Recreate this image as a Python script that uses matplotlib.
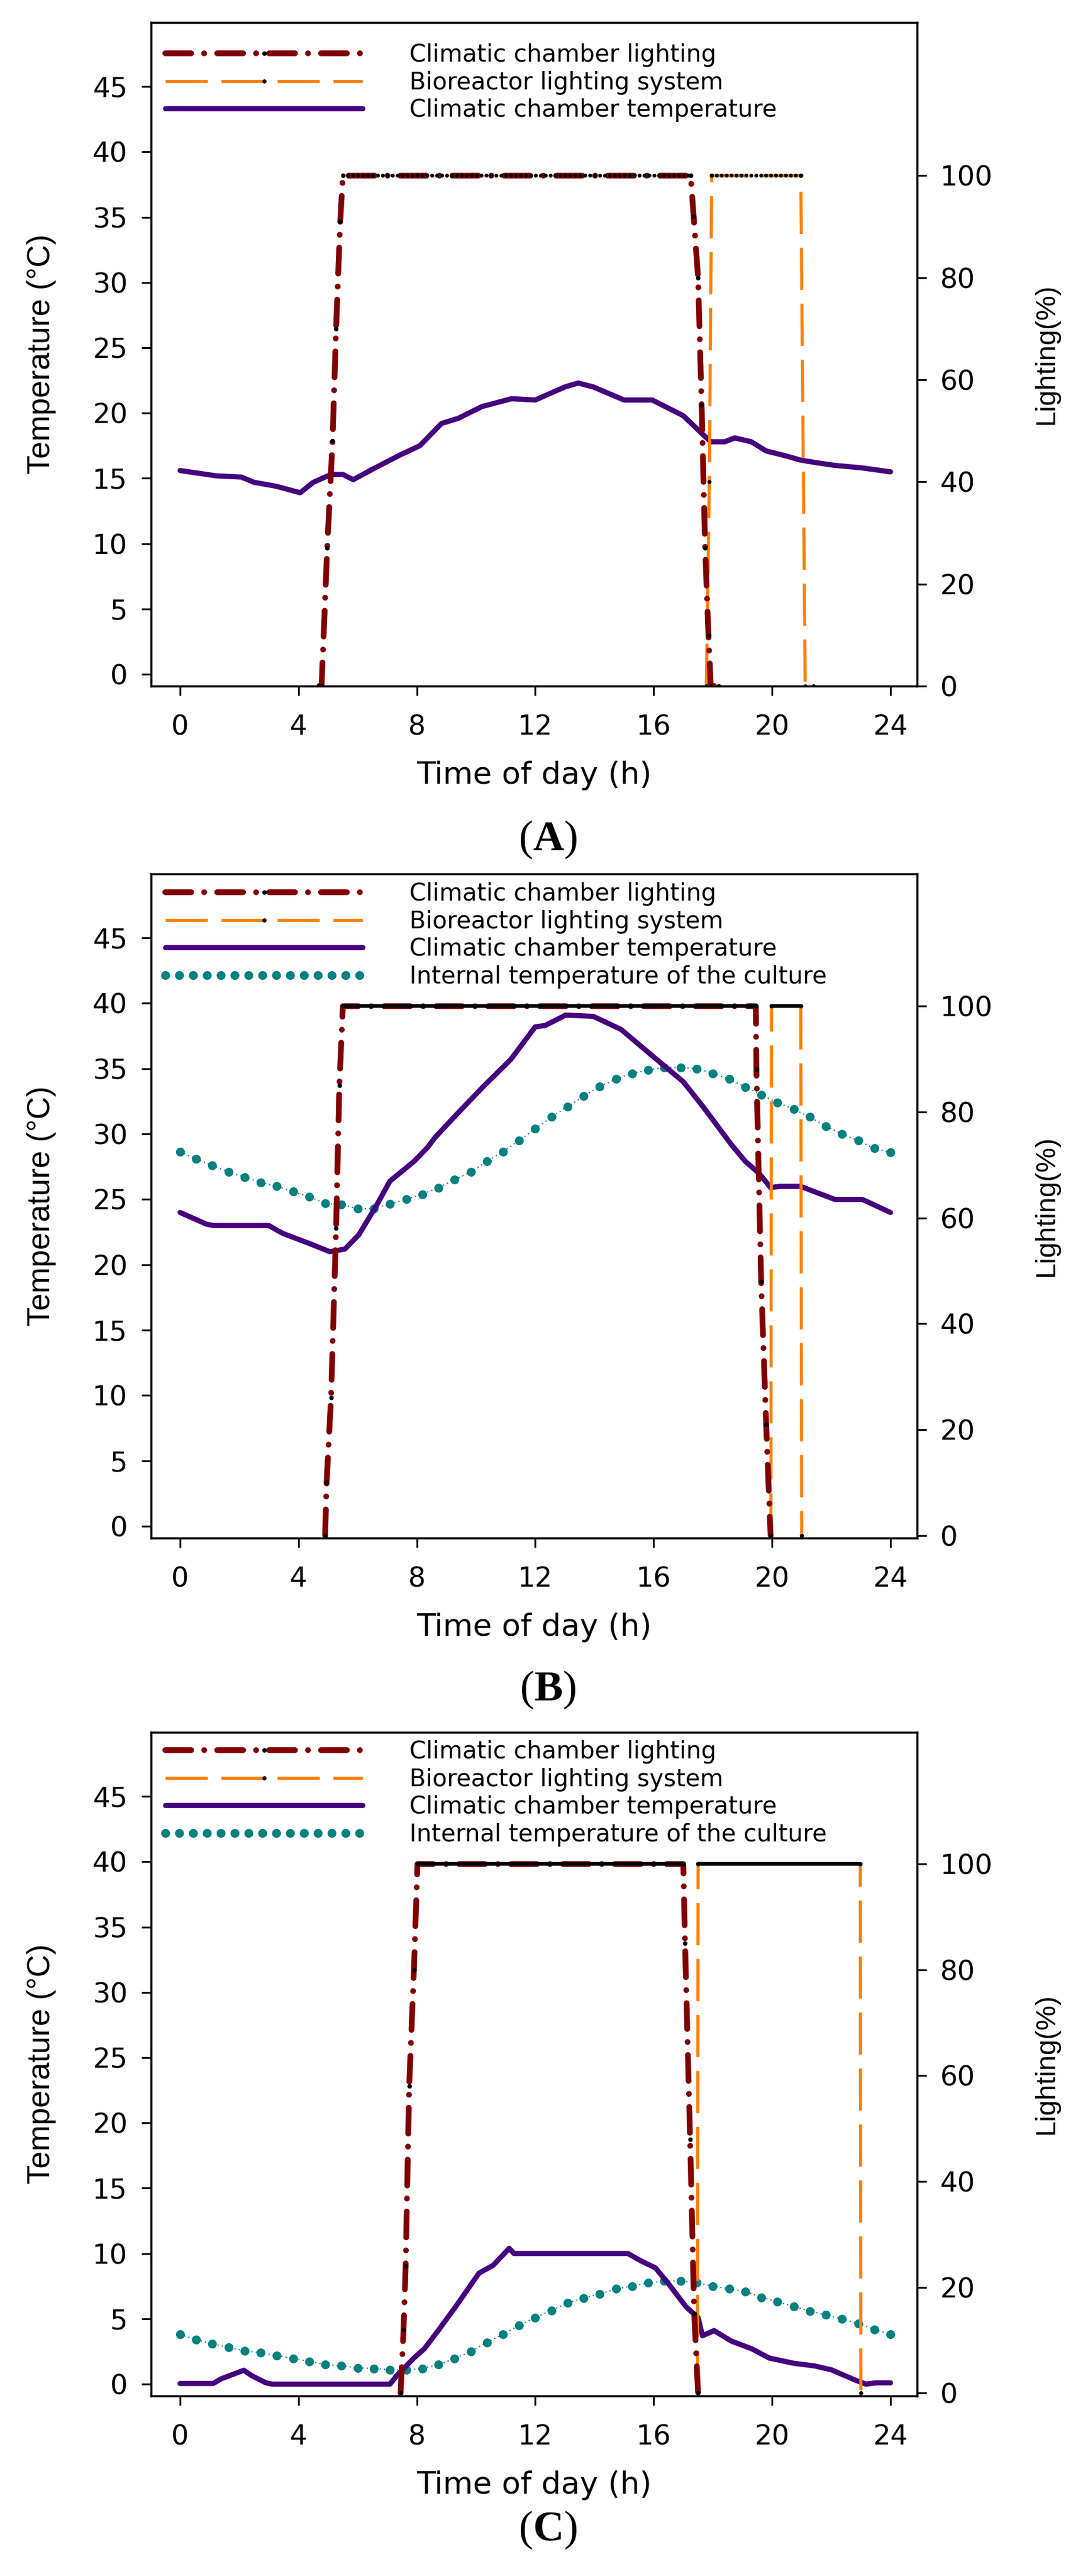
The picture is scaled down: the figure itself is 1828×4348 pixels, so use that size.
import numpy as np
import matplotlib
matplotlib.use("Agg")
import matplotlib.pyplot as plt
from matplotlib.lines import Line2D

plt.rcParams['font.family'] = ['DejaVu Sans']
plt.rcParams['mathtext.fontset'] = 'custom'
plt.rcParams['mathtext.rm'] = 'Liberation Serif'
plt.rcParams['mathtext.bf'] = 'Liberation Serif:bold'

# ---------------- data ----------------
# Panel A
a_temp_t = [0, 0.9, 1.2, 2.07, 2.5, 3.24, 4.06, 4.5, 5.1, 5.5, 5.85, 6.5, 7.44, 8.1, 8.83, 9.4,
            10.2, 11.2, 12.0, 13.0, 13.45, 13.96, 15.0, 15.95, 17.0, 17.6, 17.93, 18.4, 18.74,
            19.3, 19.8, 20.5, 20.96, 21.5, 22.1, 23.05, 24]
a_temp_v = [15.6, 15.3, 15.2, 15.1, 14.7, 14.4, 13.9, 14.7, 15.3, 15.3, 14.9, 15.7, 16.8, 17.5,
            19.2, 19.6, 20.5, 21.1, 21.0, 22.0, 22.3, 22.0, 21.0, 21.0, 19.8, 18.5, 17.8, 17.8,
            18.1, 17.8, 17.1, 16.7, 16.4, 16.2, 16.0, 15.8, 15.5]
a_cl_t = [4.7, 4.78, 4.97, 5.15, 5.27, 5.41, 5.5, 17.25, 17.35, 17.5, 17.62, 17.74, 17.85, 17.93, 18.2]
a_cl_v = [0, 0, 27, 48, 70, 91, 100, 100, 92, 80, 55, 27, 10, 0, 0]
a_bl_t = [17.78, 17.88, 17.96, 20.97, 21.12, 21.4]
a_bl_v = [0, 40, 100, 100, 0, 0]

# Panel B
b_temp_t = [0, 0.9, 1.14, 3.0, 3.47, 4.4, 5.06, 5.57, 6.04, 6.6, 7.09, 7.9, 8.37, 8.6, 9.3, 10.23,
            11.17, 12.0, 12.33, 13.03, 13.96, 14.9, 15.84, 17.0, 17.7, 18.62, 19.1, 19.56, 19.95,
            20.26, 20.96, 21.42, 22.12, 23.05, 24]
b_temp_v = [24.0, 23.1, 23.0, 23.0, 22.4, 21.6, 21.0, 21.2, 22.3, 24.4, 26.4, 27.9, 29.0, 29.7,
            31.4, 33.6, 35.7, 38.2, 38.3, 39.1, 39.0, 38.0, 36.2, 34.0, 32.0, 29.2, 27.9, 27.0,
            25.9, 26.0, 26.0, 25.6, 25.0, 25.0, 24.0]
b_cl_t = [4.9, 4.95, 5.1, 5.27, 5.38, 5.5, 19.45, 19.47, 19.63, 19.8, 19.95]
b_cl_v = [0, 10, 26, 58, 85, 100, 100, 88, 48, 21, 0]
b_bl_t = [19.96, 19.98, 20.97, 21.0]
b_bl_v = [0, 100, 100, 0]

# internal culture temperature sampling times (h)
int_t = [0.0, 0.55, 1.09, 1.64, 2.18, 2.73, 3.27, 3.82, 4.36, 4.91, 5.45, 6.0, 6.55, 7.09, 7.64,
         8.18, 8.73, 9.27, 9.82, 10.36, 10.91, 11.45, 12.0, 12.55, 13.09, 13.64, 14.18, 14.73,
         15.27, 15.82, 16.36, 16.91, 17.45, 18.0, 18.55, 19.09, 19.64, 20.18, 20.73, 21.27,
         21.82, 22.36, 22.91, 23.45, 24.0]
b_int_v = [28.65, 28.1, 27.6, 27.1, 26.7, 26.3, 26.0, 25.6, 25.2, 24.7, 24.6, 24.3, 24.3, 24.65,
           25.0, 25.4, 25.9, 26.5, 27.1, 27.9, 28.65, 29.5, 30.4, 31.3, 32.1, 32.9, 33.65, 34.2,
           34.65, 34.9, 35.1, 35.1, 35.0, 34.65, 34.2, 33.6, 33.0, 32.4, 31.9, 31.3, 30.6, 30.0,
           29.5, 28.9, 28.6]

# Panel C
c_temp_t = [0, 1.12, 1.38, 2.15, 2.42, 2.9, 3.12, 7.09, 7.32, 7.9, 8.25, 8.72, 9.3, 10.1, 10.58,
            11.12, 11.28, 12.56, 15.13, 15.6, 16.06, 16.53, 17.1, 17.5, 17.65, 18.04, 18.62,
            19.32, 19.9, 20.72, 21.42, 22.0, 22.82, 23.17, 23.52, 24]
c_temp_v = [0.05, 0.05, 0.4, 1.06, 0.65, 0.1, 0.0, 0.0, 0.65, 2.0, 2.7, 4.1, 5.9, 8.5, 9.1, 10.4,
            10.0, 10.0, 10.0, 9.4, 8.9, 7.6, 5.9, 5.1, 3.7, 4.1, 3.3, 2.7, 2.0, 1.6, 1.4, 1.1, 0.3,
            0.0, 0.1, 0.1]
c_cl_t = [7.45, 7.55, 7.62, 7.74, 7.9, 8.02, 17.0, 17.06, 17.23, 17.37, 17.5]
c_cl_v = [0, 12, 24, 58, 80, 100, 100, 85, 48, 15, 0]
c_bl_t = [17.48, 17.5, 22.98, 23.0]
c_bl_v = [0, 100, 100, 0]
c_int_v = [3.8, 3.4, 3.1, 2.8, 2.55, 2.4, 2.2, 1.95, 1.75, 1.5, 1.4, 1.25, 1.2, 1.1, 1.1, 1.2, 1.5,
           1.95, 2.5, 3.2, 3.8, 4.5, 5.1, 5.65, 6.2, 6.6, 6.9, 7.3, 7.5, 7.75, 7.9, 7.9, 7.75, 7.5,
           7.3, 7.1, 6.65, 6.3, 5.95, 5.6, 5.3, 5.0, 4.65, 4.2, 3.8]

x_ticks = [0, 4, 8, 12, 16, 20, 24]
temp_ticks = [0, 5, 10, 15, 20, 25, 30, 35, 40, 45]
light_ticks = [0, 20, 40, 60, 80, 100]

labels = ["Climatic chamber lighting", "Bioreactor lighting system",
          "Climatic chamber temperature", "Internal temperature of the culture"]
panel_letters = ["A", "B", "C"]

# ---------------- style ----------------
RED = '#800000'
ORANGE = '#FF8000'
PURPLE = '#46007E'
TEAL = '#008080'
RED_LW = 7.0
RED_LS = (0, (4.5, 2.25, 0.01, 2.25))
OR_LW = 3.8
OR_LS = (0, (13.5, 4.4))
PUR_LW = 6.3

W, H = 1828, 4348
fig = plt.figure(figsize=(W / 100, H / 100), dpi=100)
PX = 72 / 100  # points per pixel

left_px, right_px = 255, 1548
panels = [
    dict(top=38, bot=1158, temp=(a_temp_t, a_temp_v), cl=(a_cl_t, a_cl_v), bl=(a_bl_t, a_bl_v),
         internal=None, rlim=(0, 130), leg_y=94, plate='dots', lab_base=1435),
    dict(top=1475, bot=2596, temp=(b_temp_t, b_temp_v), cl=(b_cl_t, b_cl_v), bl=(b_bl_t, b_bl_v),
         internal=b_int_v, rlim=(-0.5, 125), leg_y=1510, plate='solid', lab_base=2870),
    dict(top=2924, bot=4044, temp=(c_temp_t, c_temp_v), cl=(c_cl_t, c_cl_v), bl=(c_bl_t, c_bl_v),
         internal=c_int_v, rlim=(-0.55, 124.9), leg_y=2958, plate='solid', lab_base=4288),
]

TICK_FS = 33.5
LEG_FS = 29
TICK_LEN = 16 * PX
for i, p in enumerate(panels):
    rect = [left_px / W, 1 - p['bot'] / H, (right_px - left_px) / W, (p['bot'] - p['top']) / H]
    ax = fig.add_axes(rect)
    ax2 = ax.twinx()
    ax.set_zorder(1)
    ax2.set_zorder(2)
    ax2.patch.set_visible(False)

    # temperature
    ax.plot(p['temp'][0], p['temp'][1], color=PURPLE, lw=PUR_LW, solid_capstyle='round',
            solid_joinstyle='round', zorder=3)
    if p['internal'] is not None:
        ax.plot(int_t, p['internal'], color=TEAL, lw=1.5, ls=(0, (1, 2.5)), marker='o',
                ms=10.8, mec='none', mfc=TEAL, zorder=2)

    # lighting
    ct, cv = np.array(p['cl'][0]), np.array(p['cl'][1])
    bt, bv = np.array(p['bl'][0]), np.array(p['bl'][1])
    ax2.plot(bt, bv, color=ORANGE, lw=OR_LW, ls=OR_LS, dash_capstyle='butt', marker='o', ms=4,
             mfc='k', mec='k', zorder=2)
    ax2.plot(ct, cv, color=RED, lw=RED_LW, ls=RED_LS, dash_capstyle='round', marker='o', ms=4.5,
             mfc='k', mec='k', zorder=3)
    for tt, vv in ((ct, cv), (bt, bv)):
        m = vv == 100
        if p['plate'] == 'dots':
            ax2.plot(tt[m], vv[m], color='k', lw=4.8, ls=(0, (0.01, 1.24)),
                     dash_capstyle='round', zorder=4)
        else:
            ax2.plot(tt[m], vv[m], color='k', lw=4.6, solid_capstyle='round', zorder=4)

    # axes limits / ticks
    ax.set_xlim(-0.98, 24.9)
    ax.set_ylim(-0.9, 49.9)
    ax2.set_ylim(*p['rlim'])
    ax.set_xticks(x_ticks)
    ax.set_yticks(temp_ticks)
    ax2.set_yticks(light_ticks)
    for a in (ax, ax2):
        for s in a.spines.values():
            s.set_linewidth(2.4)
    ax.tick_params(axis='x', direction='out', length=TICK_LEN, width=2.2, labelsize=TICK_FS,
                   pad=31.5 * PX)
    ax.tick_params(axis='y', direction='out', length=TICK_LEN, width=2.2, labelsize=TICK_FS,
                   pad=23.5 * PX)
    ax2.tick_params(axis='y', direction='out', length=TICK_LEN, width=2.2, labelsize=TICK_FS,
                    pad=23 * PX)

    axh = p['bot'] - p['top']
    axw = right_px - left_px
    ax.text(0.5, -165 / axh, "Time of day (h)", transform=ax.transAxes, ha='center',
            va='baseline', fontsize=37.5)
    ax.text((70 - left_px) / axw, 0.5, "Temperature (°C)", transform=ax.transAxes,
            ha='center', va='center', rotation=90, fontsize=38, family='Liberation Sans')
    ax.text((1766 - left_px) / axw, 0.5, "Lighting(%)", transform=ax.transAxes,
            ha='center', va='center', rotation=90, fontsize=34, family='Liberation Sans')

    # legend
    handles = [
        Line2D([], [], color=RED, lw=RED_LW, ls=RED_LS, dash_capstyle='round', marker='o',
               ms=4.5, mfc='k', mec='k'),
        Line2D([], [], color=ORANGE, lw=OR_LW, ls=OR_LS, marker='o', ms=4, mfc='k', mec='k'),
        Line2D([], [], color=PURPLE, lw=PUR_LW, solid_capstyle='round'),
        Line2D([], [], color=TEAL, lw=10.8, ls=(0, (0.01, 1.55)), dash_capstyle='round'),
    ]
    n = 4 if p['internal'] is not None else 3
    em = LEG_FS * 100 / 72
    ax2.legend(handles[:n], labels[:n], loc='upper left',
               bbox_to_anchor=(279 / W, 1 - (p['leg_y'] - 21) / H),
               bbox_transform=fig.transFigure, frameon=False, fontsize=LEG_FS,
               borderpad=0, borderaxespad=0, handlelength=333 / em,
               handletextpad=(691 - 612) / em, labelspacing=0.165, numpoints=1)

    fig.text(925 / W, 1 - p['lab_base'] / H, r'($\mathbf{%s}$)' % panel_letters[i],
             ha='center', va='baseline', fontsize=52, family='Liberation Serif')

fig.savefig("out.png", dpi=100)
